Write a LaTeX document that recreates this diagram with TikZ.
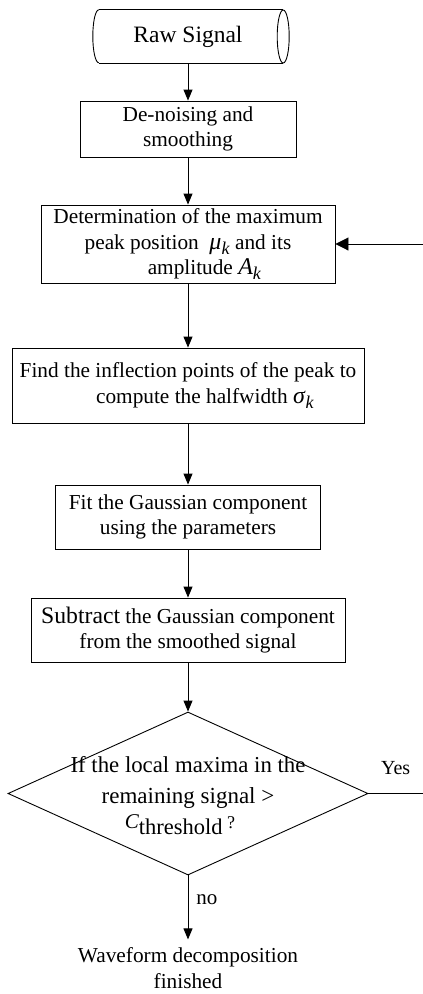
\documentclass[tikz,border=0pt]{standalone}
\usepackage{fontspec}
\setmainfont{Liberation Serif}
\usetikzlibrary{arrows.meta,shapes.geometric}

% italic symbol with a lowered italic k subscript
\newcommand{\symk}[1]{{\fontsize{24}{25.6}\selectfont\textit{#1}}\raisebox{-5pt}{\fontsize{18}{20}\selectfont\textit{k}}}

\tikzset{
  stepbox/.style={draw, line width=0.9pt, align=center, inner sep=0pt,
                  font=\fontsize{21.3}{25.6}\selectfont},
  decision/.style={draw, diamond, line width=0.9pt, inner sep=0pt},
  plain/.style={line width=0.9pt},
  flow/.style={plain, -{Triangle[length=11pt,width=9pt]}},
  bigflow/.style={plain, -{Triangle[length=13pt,width=13pt]}},
}

\begin{document}
\begin{tikzpicture}[x=1pt,y=-1pt]
\useasboundingbox (0,0) rectangle (423,994);

% start terminal: horizontal cylinder
\node[inner sep=0pt, minimum width=184pt, minimum height=53pt,
      font=\fontsize{23.5}{28}\selectfont] (raw) at (191,36.5) {Raw Signal\hspace*{6pt}};
\draw[plain] (raw.north west) -- (raw.north east);
\draw[plain] (raw.south west) -- (raw.south east);
\draw[plain] (raw.east) ellipse [x radius=6pt, y radius=26.5pt];
\draw[plain] (raw.north west) arc[start angle=90, end angle=270, x radius=6pt, y radius=26.5pt];

% processing steps
\node[stepbox, minimum width=216pt, minimum height=56pt] (den) at (188,129)
  {De-noising and\\smoothing};
\node[stepbox, minimum width=294pt, minimum height=78pt] (det) at (188,244)
  {Determination of the maximum\\peak position \ \symk{μ} and its\\\hspace*{33pt}amplitude \symk{A}};
\node[stepbox, minimum width=352pt, minimum height=75pt] (find) at (188,385.5)
  {Find the inflection points of the peak to\\\hspace*{34pt}compute the halfwidth \symk{σ}};
\node[stepbox, minimum width=265pt, minimum height=64pt] (fit) at (188,517)
  {Fit the Gaussian component\\using the parameters};
\node[stepbox, minimum width=314pt, minimum height=64pt] (sub) at (188,630)
  {{\fontsize{23.7}{25.6}\selectfont Subtract} the Gaussian component\\from the smoothed signal};

% decision
\node[decision, minimum width=360pt, minimum height=163pt] (dec) at (188,793.5) {};
\node[align=center, inner sep=0pt, font=\fontsize{23}{31}\selectfont] (dectext)
  at ([yshift=-2.5pt]dec.center)
  {{\fontsize{22.8}{31}\selectfont If the local maxima in the}\\remaining signal >\\\raisebox{6pt}{\fontsize{21}{21}\selectfont\textit{C}}{\fontsize{22.5}{31}\selectfont threshold}{\fontsize{18}{18}\selectfont\ \raisebox{6pt}{?}}\hspace*{16pt}};

% end text
\node[align=center, inner xsep=0pt, inner ysep=8pt, font=\fontsize{21.3}{25.6}\selectfont] (done)
  at (188,968) {Waveform decomposition\\finished};

% loop ends at the right border
\coordinate (yesend) at (423,793.5);
\coordinate (loopin) at (423,244);

% connectors
\draw[flow] (raw.south -| den.north) -- (den.north);
\draw[flow] (den.south) -- (det.north);
\draw[flow] (det.south) -- (find.north);
\draw[flow] (find.south) -- (fit.north);
\draw[flow] (fit.south) -- (sub.north);
\draw[flow] (sub.south) -- (dec.north);
\draw[plain] (dec.east) -- node[pos=0.5, above=18pt, inner sep=0pt,
  font=\fontsize{20}{24}\selectfont] (yes) {Yes} (yesend);
\draw[bigflow] (loopin) -- (det.east);
\draw[flow] (dec.south) -- node[pos=0.38, right=8pt, inner sep=0pt,
  font=\fontsize{21}{24}\selectfont] (no) {no} (done.north);
\end{tikzpicture}
\end{document}
